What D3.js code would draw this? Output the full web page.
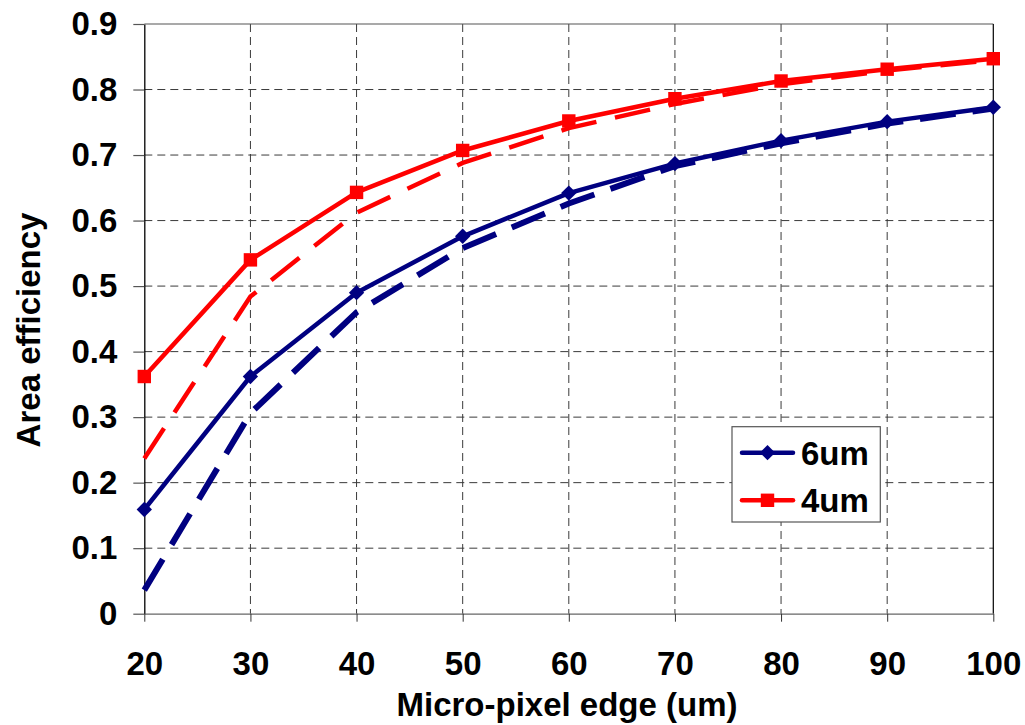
<!DOCTYPE html>
<html>
<head>
<meta charset="utf-8">
<script src="https://cdn.jsdelivr.net/npm/d3@7"></script>
<style>
  html, body { margin: 0; padding: 0; background: #fff; }
  svg { display: block; }
  text { font-family: "Liberation Sans", Arial, sans-serif; font-weight: bold; fill: #000; }
</style>
</head>
<body>
<svg id="chart" width="1025" height="725"></svg>
<script>
// Micro-pixel edge length (um)
const edges = [20, 30, 40, 50, 60, 70, 80, 90, 100];

// Area efficiency, 6um gap: markers (solid) and model curve (dashed)
const eff6um = [0.159, 0.362, 0.490, 0.576, 0.642, 0.687, 0.722, 0.751, 0.773];
const eff6umModel = [0.036, 0.306, 0.460, 0.558, 0.626, 0.683, 0.718, 0.748, 0.771];

// Area efficiency, 4um gap: markers (solid) and model curve (dashed)
const eff4um = [0.362, 0.540, 0.643, 0.707, 0.752, 0.786, 0.813, 0.831, 0.847];
const eff4umModel = [0.237, 0.484, 0.612, 0.688, 0.741, 0.778, 0.808, 0.829, 0.845];

const xTicks = [20, 30, 40, 50, 60, 70, 80, 90, 100];
const yTicks = [0, 0.1, 0.2, 0.3, 0.4, 0.5, 0.6, 0.7, 0.8, 0.9];
const yTickLabels = ["0", "0.1", "0.2", "0.3", "0.4", "0.5", "0.6", "0.7", "0.8", "0.9"];

const legendItems = [
  { label: "6um", color: "#000080", marker: "diamond" },
  { label: "4um", color: "#FF0000", marker: "square" }
];

const svg = d3.select("#chart");
const plotLeft = 144.3, plotRight = 993.3, plotTop = 24, plotBottom = 613.7;

const x = d3.scaleLinear().domain([20, 100]).range([plotLeft, plotRight]);
const y = d3.scaleLinear().domain([0, 0.9]).range([plotBottom, plotTop]);

// Grid
const grid = svg.append("g");
grid.selectAll("line.h").data(yTicks.filter(v => v > 0 && v < 0.9)).join("line")
  .attr("x1", plotLeft).attr("x2", plotRight)
  .attr("y1", d => y(d)).attr("y2", d => y(d))
  .attr("stroke", "#3a3a3a").attr("stroke-width", 1).attr("stroke-dasharray", "8,5");
grid.selectAll("line.v").data(xTicks.filter(v => v > 20 && v < 100)).join("line")
  .attr("y1", plotTop).attr("y2", plotBottom)
  .attr("x1", d => x(d)).attr("x2", d => x(d))
  .attr("stroke", "#3a3a3a").attr("stroke-width", 1).attr("stroke-dasharray", "8,5");

// Frame
svg.append("line").attr("x1", plotLeft).attr("x2", plotRight).attr("y1", plotTop).attr("y2", plotTop)
  .attr("stroke", "#555").attr("stroke-width", 1.2);
svg.append("line").attr("x1", plotRight).attr("x2", plotRight).attr("y1", plotTop).attr("y2", plotBottom)
  .attr("stroke", "#000").attr("stroke-width", 1.2);

// Y axis
const yAxis = svg.append("g").attr("transform", `translate(${plotLeft},0)`)
  .call(d3.axisLeft(y).tickValues(yTicks).tickFormat((d, i) => yTickLabels[i])
    .tickSize(11).tickSizeOuter(0).tickPadding(16));
yAxis.attr("font-family", null).attr("font-size", null);
yAxis.select(".domain").attr("stroke", "#000").attr("stroke-width", 1.3);
yAxis.selectAll(".tick line").attr("stroke", "#555").attr("stroke-width", 1.2);
yAxis.selectAll(".tick text").attr("font-size", 33);

// X axis
const xAxis = svg.append("g").attr("transform", `translate(0,${plotBottom})`)
  .call(d3.axisBottom(x).tickValues(xTicks).tickFormat(d3.format("d"))
    .tickSize(11).tickSizeOuter(0).tickPadding(27));
xAxis.attr("font-family", null).attr("font-size", null);
xAxis.select(".domain").attr("stroke", "#666").attr("stroke-width", 1.3);
xAxis.selectAll(".tick line").attr("stroke", "#333").attr("stroke-width", 1)
  .attr("stroke-dasharray", "8,5");
xAxis.selectAll(".tick text").attr("font-size", 33).attr("dy", "0.72em");

// Axis titles
svg.append("text").attr("x", 567).attr("y", 716).attr("text-anchor", "middle")
  .attr("font-size", 33).text("Micro-pixel edge (um)");
svg.append("text").attr("transform", "translate(40,330) rotate(-90)")
  .attr("text-anchor", "middle").attr("font-size", 33).text("Area efficiency");

// Series
const line = d3.line().x((d, i) => x(edges[i])).y(d => y(d));
const plot = svg.append("g");

plot.append("path").datum(eff6umModel).attr("d", line)
  .attr("fill", "none").attr("stroke", "#000080").attr("stroke-width", 6)
  .attr("stroke-dasharray", "36,17");
plot.append("path").datum(eff4umModel).attr("d", line)
  .attr("fill", "none").attr("stroke", "#FF0000").attr("stroke-width", 4.5)
  .attr("stroke-dasharray", "36,19");

plot.append("path").datum(eff6um).attr("d", line)
  .attr("fill", "none").attr("stroke", "#000080").attr("stroke-width", 4.5)
  .attr("stroke-linejoin", "round");
plot.append("path").datum(eff4um).attr("d", line)
  .attr("fill", "none").attr("stroke", "#FF0000").attr("stroke-width", 4.5)
  .attr("stroke-linejoin", "round");

const diamond = d3.symbol().type(d3.symbolDiamond2).size(150);
const square = d3.symbol().type(d3.symbolSquare).size(180);

plot.selectAll("path.m6").data(eff6um).join("path")
  .attr("class", "m6")
  .attr("d", diamond)
  .attr("transform", (d, i) => `translate(${x(edges[i])},${y(d)})`)
  .attr("fill", "#000080");
plot.selectAll("path.m4").data(eff4um).join("path")
  .attr("class", "m4")
  .attr("d", square)
  .attr("transform", (d, i) => `translate(${x(edges[i])},${y(d)})`)
  .attr("fill", "#FF0000");

// Legend
const lg = svg.append("g");
lg.append("rect").attr("x", 732).attr("y", 426.7).attr("width", 148.3).attr("height", 95.3)
  .attr("fill", "#fff").attr("stroke", "#555").attr("stroke-width", 1.2);
legendItems.forEach((item, i) => {
  const cy = 452.7 + i * 47.6;
  lg.append("line").attr("x1", 742).attr("x2", 793).attr("y1", cy).attr("y2", cy)
    .attr("stroke", item.color).attr("stroke-width", 4.5).attr("stroke-linecap", "round");
  lg.append("path")
    .attr("d", item.marker === "diamond" ? diamond() : square())
    .attr("transform", `translate(767.5,${cy})`).attr("fill", item.color);
  lg.append("text").attr("x", 801).attr("y", cy + 12).attr("font-size", 33).text(item.label);
});
</script>
</body>
</html>
